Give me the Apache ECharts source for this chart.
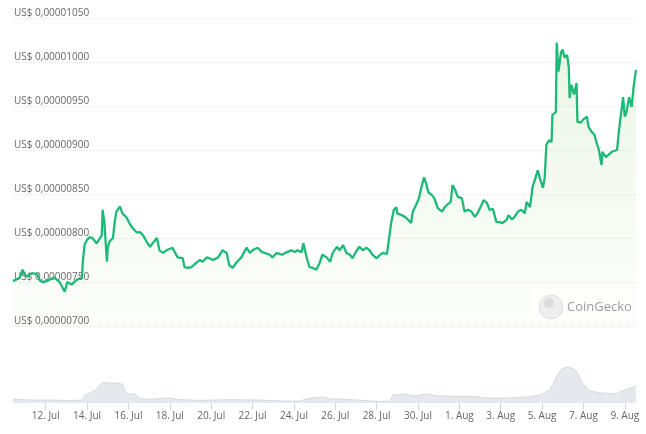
<!DOCTYPE html>
<html><head><meta charset="utf-8">
<script src="https://cdn.jsdelivr.net/npm/echarts@6/dist/echarts.min.js"></script>
<style>html,body{margin:0;padding:0;background:#fff}#c{width:646px;height:434px}</style>
</head><body><div id="c"></div>
<script>
// hours since 10 Jul 00:00
const hours = [10,14,18,21,24,27,32,38,41,44,49,53,58,64,70,73,78,82,85,90,91,93,96,99,102,107,109,113,114,116,119,120,122,126,128,130,134,137,142,145,149,154,157,161,165,169,172,177,180,184,188,195,201,207,209,213,217,223,227,230,235,238,242,248,253,258,261,265,270,275,281,285,288,294,299,302,308,311,316,322,328,333,337,340,345,347,351,354,358,362,366,369,374,378,381,386,389,393,397,401,404,409,412,416,420,424,427,432,436,439,444,446,449,452,455,456,461,465,468,472,474,478,481,484,487,490,492,496,499,503,508,511,514,518,520,523,526,531,534,538,542,546,549,554,556,560,563,567,571,575,578,583,585,589,592,596,600,604,606,610,613,615,619,622,625,627,629,632,635,636,640,641,643,646,648,650,653,655,656,658,661,664,665,669,671,676,678,682,685,687,690,693,694,698,700,705,707,711,713,715,718,720,722,725,728,730,733];
// price in units of 1e-8 US$
const prices = [751,753,755,764,758,756,760,759,752,750,751,753,755,750,739,750,747,751,753,755,773,792,798,801,800,794,792,803,832,818,773,789,796,800,818,830,836,828,823,817,811,806,807,803,796,790,794,800,786,783,786,789,778,777,767,766,767,772,775,773,778,777,775,778,786,783,769,766,773,778,789,783,786,789,784,783,781,778,783,781,784,786,784,786,784,794,777,767,766,764,772,781,778,773,783,790,786,792,783,781,777,786,790,786,789,786,781,777,781,783,782,784,818,832,835,828,826,824,821,817,830,838,845,858,869,860,852,849,845,834,830,835,838,841,860,855,847,845,830,832,830,824,828,838,843,840,832,833,818,818,817,821,826,821,824,830,832,828,841,835,858,864,877,866,857,868,906,911,909,940,943,1022,989,1011,1014,1005,1008,994,959,974,963,976,932,931,934,938,926,920,917,909,900,883,898,892,891,898,897,900,920,936,960,938,943,960,949,970,991];
const volHours = [10,29,53,76,91,93,105,111,114,122,130,137,141,145,151,157,169,180,192,204,227,265,296,323,343,351,369,378,404,432,447,451,467,474,490,505,528,544,560,583,606,621,633,641,648,656,664,671,679,694,711,716,733];
const volumes = [4,3,3,2.5,3,8,12,18,21,20,20,19,10,9,9,5,3.3,4.7,5,3.3,2.7,3.3,3,2,2,4.3,6,4.3,3.3,1.7,1.7,8,9,7,9,7,6.7,6.7,5,5,6,8,13,27,35,36,32,20,12,10,9,12,17];
const tickHours = [48,96,144,192,240,288,336,384,432,480,528,576,624,672,720];
const tickLabels = ['12. Jul','14. Jul','16. Jul','18. Jul','20. Jul','22. Jul','24. Jul','26. Jul','28. Jul','30. Jul','1. Aug','3. Aug','5. Aug','7. Aug','9. Aug'];

const priceData = hours.map((h,i)=>[h,prices[i]]);
const volData = volHours.map((h,i)=>[h,volumes[i]]);
const font = '"Open Sans", "Noto Sans", sans-serif';

const chart = echarts.init(document.getElementById('c'), null, {renderer:'canvas'});
chart.setOption({
  animation:false,
  grid:[{left:13,right:10,top:18,bottom:108},{left:13,right:10,top:359,bottom:31}],
  xAxis:[
    {type:'value',gridIndex:0,min:10,max:733,axisLine:{show:false},axisTick:{show:false},axisLabel:{show:false},splitLine:{show:false}},
    {type:'value',gridIndex:1,min:10,max:733,axisLine:{show:false},
     axisTick:{show:true,customValues:tickHours,length:7,lineStyle:{color:'#ccd6eb'}},
     axisLabel:{customValues:tickHours,margin:8,color:'#666',fontSize:10,fontFamily:font,
       formatter:v=>{const i=tickHours.indexOf(v);return i>=0?tickLabels[i]:'';}},
     splitLine:{show:false}}
  ],
  yAxis:[
    {type:'value',gridIndex:0,min:700,max:1050,interval:50,position:'left',
     axisLine:{show:false},axisTick:{show:false},
     axisLabel:{inside:true,margin:1,verticalAlign:'bottom',color:'#666',fontSize:10,fontFamily:font,
       formatter:v=>'US$ '+(v*1e-8).toFixed(8).replace('.',',')},
     splitLine:{lineStyle:{color:'#e6e6e6',type:'dotted'}}},
    {type:'value',gridIndex:1,min:0,max:44,show:false,splitLine:{show:false}}
  ],
  graphic:[
    {type:'rect',z:10,shape:{x:530,y:286,width:106,height:36},style:{fill:'rgba(255,255,255,0.55)'}},
    {type:'circle',z:11,shape:{cx:551,cy:307,r:12},style:{fill:'#eeeeee',stroke:'#dddddd',lineWidth:1}},
    {type:'circle',z:12,shape:{cx:549,cy:303,r:5},style:{fill:'#dcdcdc'}},
    {type:'text',z:12,style:{x:567,y:307,text:'CoinGecko',fill:'#9d9d9d',font:'13px '+font,verticalAlign:'middle'}}
  ],
  series:[
    {type:'line',xAxisIndex:0,yAxisIndex:0,data:priceData,symbol:'none',
     lineStyle:{color:'#1db978',width:2.3},
     areaStyle:{color:new echarts.graphic.LinearGradient(0,0,0,1,[{offset:0,color:'rgba(130,200,90,0.22)'},{offset:1,color:'rgba(130,200,90,0.03)'}])}},
    {type:'line',xAxisIndex:1,yAxisIndex:1,data:volData,symbol:'none',
     lineStyle:{color:'#d6dae0',width:1},areaStyle:{color:'#e5e8ec',opacity:1}}
  ]
});
</script></body></html>
